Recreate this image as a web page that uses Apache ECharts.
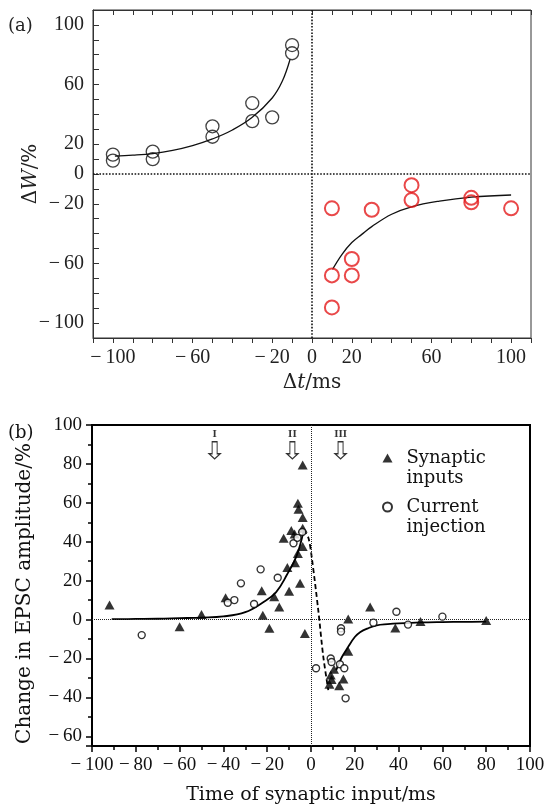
<!DOCTYPE html>
<html><head><meta charset="utf-8">
<script src="https://cdn.jsdelivr.net/npm/echarts@6/dist/echarts.min.js"></script>
<style>html,body{margin:0;padding:0;background:#fff}#c{width:554px;height:807px}</style>
</head><body><div id="c"></div>
<script>
// ---------- Panel (a) ----------
const aNegX = [-100, -100, -80, -80, -50, -50, -30, -30, -20, -10, -10];
const aNegY = [13, 9, 15, 10, 32, 25, 47.5, 35.5, 38, 81, 86.5];
const aPosX = [10, 10, 10, 20, 20, 30, 50, 50, 80, 80, 100];
const aPosY = [-23, -68, -89.5, -57, -68, -24, -7.5, -17.5, -16, -19, -23];
const aFitNegX = [-99, -90, -80, -70, -60, -50, -40, -30, -20, -15, -11];
const aFitNegY = [12, 12.6, 13.7, 15.8, 19, 23.5, 29.5, 38, 51, 62, 77];
const aFitPosX = [10.3, 15, 20, 25, 30, 40, 50, 64, 80, 100];
const aFitPosY = [-64, -54, -46, -40.5, -35.3, -27, -22, -18.2, -15.5, -14.1];
const aXTickLabels = [-100, -60, -20, 0, 20, 60, 100];
const aYTickLabels = [-100, -60, -20, 0, 20, 60, 100];
const zeroLines = [0];

// ---------- Panel (b) ----------
const synX = [-92, -60, -50, -39, -22.5, -22, -19, -16.8, -14.5, -12.5, -10.8, -10, -9, -7.5, -7.3, -6, -5, -6, -5.7, -3.8, -3.8, -3.8, -3.8, -2.8,
  8.4, 9, 9.4, 10.5, 12.9, 14.8, 17, 17, 27, 38.5, 50, 80];
const synY = [7.5, -3.7, 2.6, 11.2, 14.8, 2.2, -4.5, 11.7, 6.5, 41.8, 26.7, 14.5, 45.8, 44, 29.2, 34, 18.6, 59.8, 56.7, 52.5, 46.9, 37.5, 79.5, -7.2,
  -33.2, -28.5, -30.8, -25.5, -34, -30.5, -16.3, 0.3, 6.5, -4.4, -1, -0.5];
const curX = [-77.3, -38, -35, -32, -26, -23, -15.2, -8, -6.2, -4, 2.3, 9, 9.4, 13.7, 13.7, 13.2, 15.2, 15.8, 28.5, 39, 44.3, 60];
const curY = [-8, 8.6, 10, 18.6, 8, 25.8, 21.5, 39.2, 42, 45, -25, -20, -21.8, -4.5, -6.2, -23, -25, -40.5, -1.6, 4, -2.6, 1.5];
const bFitLeftX = [-91, -80, -70, -60, -50, -40, -30, -22, -16, -11, -6.5, -3.5];
const bFitLeftY = [0.2, 0.3, 0.4, 0.7, 1, 1.6, 3.8, 8.8, 14, 23, 33, 45];
const bDashX = [-3.5, -1.2, 0.5, 3.3, 5.6, 7.9];
const bDashY = [46, 42, 30.6, 5, -19, -36.3];
const bFitRightX = [11.5, 14, 17, 20, 22.4, 26, 30, 35, 40, 50, 60, 70, 80];
const bFitRightY = [-26, -19.5, -14, -9, -6.5, -4.5, -3, -2.4, -2, -1.5, -1.3, -1.2, -1.1];
const arrowX = [-44, -8.5, 13.5];
const arrowY = [87, 87, 87];
const arrowText = ['I', 'II', 'III'];
const seriesNames = ['Synaptic inputs', 'Current injection'];
const legendLines = {'Synaptic inputs': ['Synaptic', 'inputs'], 'Current injection': ['Current', 'injection']};

const NUMF = '"Liberation Serif", "DejaVu Serif", serif';
const TXTF = '"DejaVu Serif", "Liberation Serif", serif';
const zip = (xs, ys) => xs.map((x, i) => [x, ys[i]]);
const fmtNum = v => (v < 0 ? '\u2212\u2009' + Math.abs(v) : String(v));
const zeroMarks = () => zeroLines.map(v => ({xAxis: v})).concat(zeroLines.map(v => ({yAxis: v})));

const chart = echarts.init(document.getElementById('c'), null, {renderer: 'canvas'});
const option = {
  animation: false,
  backgroundColor: '#fff',
  title: [
    {text: '(a)', left: 3, top: 12, textStyle: {fontFamily: TXTF, fontSize: 18, fontWeight: 'normal', color: '#222'}},
    {text: '(b)', left: 3, top: 419, textStyle: {fontFamily: TXTF, fontSize: 18, fontWeight: 'normal', color: '#111'}}
  ],
  grid: [
    {left: 93, right: 23, top: 10, height: 328, show: true, borderColor: '#333', borderWidth: 1, containLabel: false},
    {left: 92, right: 24, top: 425, height: 321, show: true, borderColor: '#000', borderWidth: 2, containLabel: false}
  ],
  legend: {
    show: true, orient: 'vertical', left: 377, top: 423, itemGap: -11,
    itemWidth: 10, itemHeight: 9,
    data: seriesNames,
    formatter: n => '\n' + legendLines[n].map(s => '\u2002' + s).join('\n'),
    textStyle: {fontFamily: TXTF, fontSize: 18, color: '#111', lineHeight: 20}
  },
  xAxis: [
    {gridIndex: 0, type: 'value', min: -110, max: 110, interval: 10, position: 'bottom',
      axisLine: {onZero: false, lineStyle: {color: '#333', width: 1}}, splitLine: {show: false},
      axisTick: {inside: false, length: 5, lineStyle: {color: '#333'}},
      axisLabel: {margin: 10, fontFamily: NUMF, fontSize: 20, color: '#222',
        formatter: v => aXTickLabels.includes(v) ? fmtNum(v) : ''},
      name: '{n|\u0394}{i|t}{n|/ms}', nameLocation: 'middle', nameGap: 35, nameMoveOverlap: false,
      nameTextStyle: {rich: {n: {fontFamily: TXTF, fontSize: 20, color: '#222'}, i: {fontFamily: TXTF, fontSize: 20, fontStyle: 'italic', color: '#222'}}}},
    {gridIndex: 0, type: 'value', min: -110, max: 110, interval: 10, position: 'top',
      axisLine: {onZero: false, lineStyle: {color: '#333', width: 1}}, splitLine: {show: false},
      axisTick: {inside: true, length: 5, lineStyle: {color: '#333'}}, axisLabel: {show: false}},
    {gridIndex: 1, type: 'value', min: -100, max: 100, interval: 20, position: 'bottom',
      axisLine: {onZero: false, lineStyle: {color: '#000', width: 2}}, splitLine: {show: false},
      axisTick: {inside: false, length: 6, lineStyle: {color: '#000', width: 1.5}},
      minorTick: {show: true, splitNumber: 2, length: 4, lineStyle: {color: '#000', width: 1.5}},
      axisLabel: {margin: 10, fontFamily: NUMF, fontSize: 19, color: '#111', formatter: v => fmtNum(v)},
      name: 'Time of synaptic input/ms', nameLocation: 'middle', nameGap: 40, nameMoveOverlap: false,
      nameTextStyle: {fontFamily: TXTF, fontSize: 19, color: '#111'}}
  ],
  yAxis: [
    {gridIndex: 0, type: 'value', min: -110, max: 110, interval: 10, position: 'left',
      axisLine: {onZero: false, lineStyle: {color: '#333', width: 1}}, splitLine: {show: false},
      axisTick: {inside: true, length: 6, lineStyle: {color: '#333'}},
      axisLabel: {margin: 9, fontFamily: NUMF, fontSize: 20, color: '#222',
        formatter: v => aYTickLabels.includes(v) ? fmtNum(v) : ''},
      name: '{n|\u0394}{i|W}{n|/%}', nameLocation: 'middle', nameGap: 52, nameMoveOverlap: false,
      nameTextStyle: {rich: {n: {fontFamily: TXTF, fontSize: 20, color: '#222'}, i: {fontFamily: TXTF, fontSize: 20, fontStyle: 'italic', color: '#222'}}}},
    {gridIndex: 1, type: 'value', min: -65, max: 100, splitNumber: 8, position: 'left',
      axisLine: {onZero: false, lineStyle: {color: '#000', width: 2}}, splitLine: {show: false},
      axisTick: {inside: false, length: 6, lineStyle: {color: '#000', width: 1.5}},
      minorTick: {show: true, splitNumber: 2, length: 4, lineStyle: {color: '#000', width: 1.5}},
      axisLabel: {margin: 10, fontFamily: NUMF, fontSize: 19, color: '#111', showMinLabel: false,
        formatter: v => (v % 20 === 0 ? fmtNum(v) : '')},
      name: 'Change in EPSC amplitude/%', nameLocation: 'middle', nameGap: 57, nameMoveOverlap: false,
      nameTextStyle: {fontFamily: TXTF, fontSize: 20, color: '#111', padding: [0, 16, 0, 0]}}
  ],
  series: [
    // panel (a)
    {name: 'ltp', type: 'scatter', xAxisIndex: 0, yAxisIndex: 0, data: zip(aNegX, aNegY),
      symbol: 'circle', symbolSize: 13, itemStyle: {color: 'transparent', borderColor: '#111', borderWidth: 1.3}, z: 3,
      markLine: {silent: true, symbol: 'none', label: {show: false}, emphasis: {disabled: true},
        lineStyle: {type: 'dotted', color: '#111', width: 1.6}, data: zeroMarks()}},
    {name: 'ltd', type: 'scatter', xAxisIndex: 0, yAxisIndex: 0, data: zip(aPosX, aPosY),
      symbol: 'circle', symbolSize: 14, itemStyle: {color: 'transparent', borderColor: '#e31a1c', borderWidth: 2}, z: 3},
    {name: 'fitNeg', type: 'line', xAxisIndex: 0, yAxisIndex: 0, data: zip(aFitNegX, aFitNegY), smooth: 0.4,
      showSymbol: false, lineStyle: {color: '#111', width: 1.3}, z: 2},
    {name: 'fitPos', type: 'line', xAxisIndex: 0, yAxisIndex: 0, data: zip(aFitPosX, aFitPosY), smooth: 0.4,
      showSymbol: false, lineStyle: {color: '#111', width: 1.3}, z: 2},
    // panel (b)
    {name: 'Synaptic inputs', type: 'scatter', xAxisIndex: 2, yAxisIndex: 1, data: zip(synX, synY),
      symbol: 'triangle', symbolSize: [10, 9], itemStyle: {color: '#000'}, z: 4,
      markLine: {silent: true, symbol: 'none', label: {show: false}, emphasis: {disabled: true},
        lineStyle: {type: 'dotted', color: '#222', width: 1}, data: zeroMarks()}},
    {name: 'Current injection', type: 'scatter', xAxisIndex: 2, yAxisIndex: 1, data: zip(curX, curY),
      symbol: 'circle', symbolSize: 7, itemStyle: {color: '#fff', borderColor: '#000', borderWidth: 1.4}, z: 5},
    {name: 'fitL', type: 'line', xAxisIndex: 2, yAxisIndex: 1, data: zip(bFitLeftX, bFitLeftY), smooth: 0.4,
      showSymbol: false, lineStyle: {color: '#000', width: 1.8}, z: 3},
    {name: 'fitDash', type: 'line', xAxisIndex: 2, yAxisIndex: 1, data: zip(bDashX, bDashY), smooth: 0.3,
      showSymbol: false, lineStyle: {color: '#000', width: 1.8, type: [5, 3]}, z: 3},
    {name: 'fitR', type: 'line', xAxisIndex: 2, yAxisIndex: 1, data: zip(bFitRightX, bFitRightY), smooth: 0.4,
      showSymbol: false, lineStyle: {color: '#000', width: 1.8}, z: 3},
    {name: 'arrows', type: 'scatter', xAxisIndex: 2, yAxisIndex: 1,
      data: arrowX.map((x, i) => ({value: [x, arrowY[i]], label: {formatter: arrowText[i]}})),
      symbol: 'path://M3,0L8,0L8,12L11,12L5.5,17L0,12L3,12Z', symbolSize: [11, 17],
      itemStyle: {color: '#fff', borderColor: '#000', borderWidth: 1.2},
      label: {show: true, position: 'top', distance: 1, fontFamily: NUMF, fontSize: 11, fontWeight: 'bold', color: '#000'}, z: 5}
  ]
};
chart.setOption(option);
</script></body></html>
